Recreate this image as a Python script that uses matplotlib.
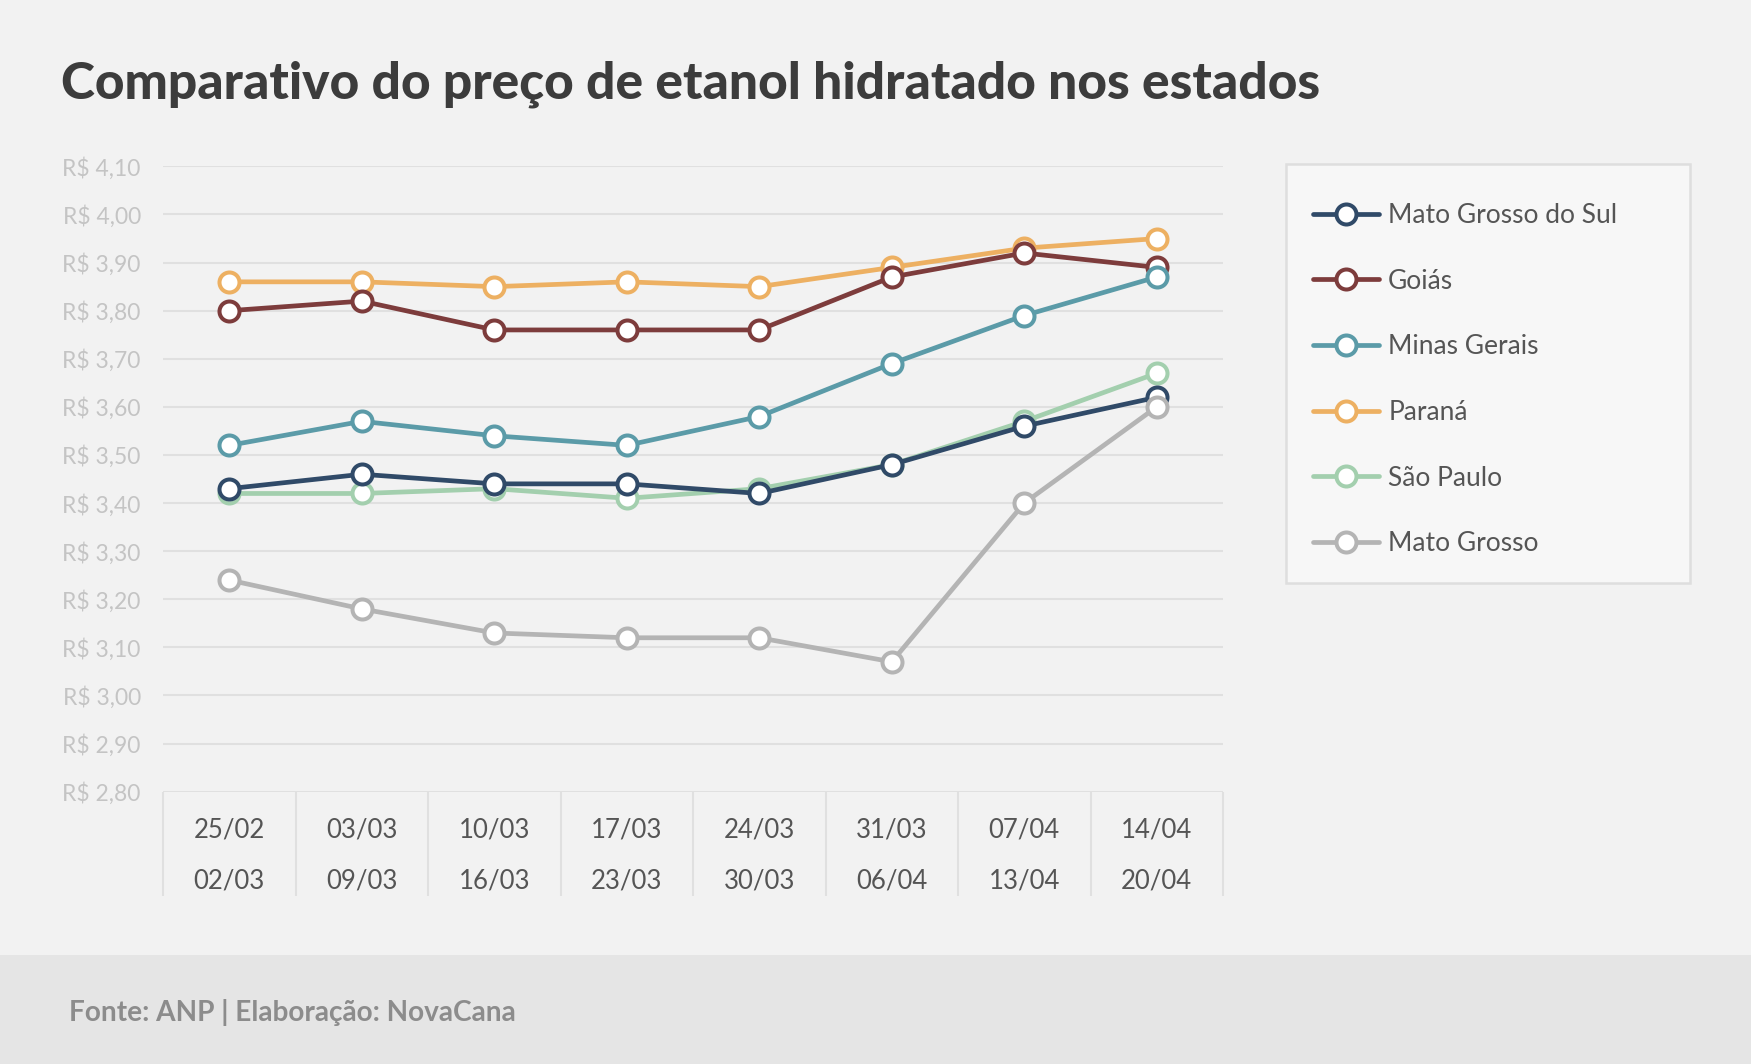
import matplotlib
matplotlib.use("Agg")
import matplotlib.pyplot as plt
from matplotlib.patches import Rectangle
import numpy as np

plt.rcParams['font.family'] = ['Lato', 'DejaVu Sans']

# ---- data ----
week_start = ["25/02", "03/03", "10/03", "17/03", "24/03", "31/03", "07/04", "14/04"]
week_end = ["02/03", "09/03", "16/03", "23/03", "30/03", "06/04", "13/04", "20/04"]

mato_grosso_do_sul = [3.43, 3.46, 3.44, 3.44, 3.42, 3.48, 3.56, 3.62]
goias = [3.80, 3.82, 3.76, 3.76, 3.76, 3.87, 3.92, 3.89]
minas_gerais = [3.52, 3.57, 3.54, 3.52, 3.58, 3.69, 3.79, 3.87]
parana = [3.86, 3.86, 3.85, 3.86, 3.85, 3.89, 3.93, 3.95]
sao_paulo = [3.42, 3.42, 3.43, 3.41, 3.43, 3.48, 3.57, 3.67]
mato_grosso = [3.24, 3.18, 3.13, 3.12, 3.12, 3.07, 3.40, 3.60]

series_names = ["Mato Grosso do Sul", "Goiás", "Minas Gerais", "Paraná", "São Paulo", "Mato Grosso"]
series_values = [mato_grosso_do_sul, goias, minas_gerais, parana, sao_paulo, mato_grosso]
series_colors = ["#304a68", "#7d3c3c", "#5b9ba8", "#edb062", "#a3cfae", "#b4b4b4"]
series_z = [4, 5, 6, 3, 2, 7]

y_ticks = [2.80, 2.90, 3.00, 3.10, 3.20, 3.30, 3.40, 3.50, 3.60, 3.70, 3.80, 3.90, 4.00, 4.10]

W, H = 1751, 1064
fig = plt.figure(figsize=(W / 100, H / 100), dpi=100)
fig.patch.set_facecolor('#f2f2f2')

# footer band
fig.patches.append(Rectangle((0, 0), 1, (H - 955) / H, transform=fig.transFigure,
                             facecolor='#e5e5e5', edgecolor='none', zorder=-2))
# legend frame
fig.patches.append(Rectangle((1286 / W, 1 - 583 / H), 404 / W, 419 / H, transform=fig.transFigure,
                             facecolor='#f7f7f7', edgecolor='#dedede', linewidth=1.8, zorder=-1))

ax_l, ax_r, ax_t, ax_b = 163, 1223, 166.4, 791.7
ax = fig.add_axes([ax_l / W, 1 - ax_b / H, (ax_r - ax_l) / W, (ax_b - ax_t) / H])
ax.set_facecolor('none')

x = np.arange(len(week_start))
handles = []
for name, vals, col, z in zip(series_names, series_values, series_colors, series_z):
    h, = ax.plot(x, vals, color=col, lw=3.4, marker='o', ms=14.4, mfc='white', mec=col,
                 mew=2.9, zorder=z, label=name, solid_capstyle='round')
    handles.append(h)

ax.set_xlim(-0.5, len(week_start) - 0.5)
ax.set_ylim(2.80, 4.10)
ax.set_yticks(y_ticks)
ax.set_yticklabels([("R\\$ %.2f" % v).replace('.', ',') for v in y_ticks])
ax.yaxis.grid(True, color='#e0e0e0', lw=1.5, zorder=0)
ax.set_axisbelow(True)
for s in ax.spines.values():
    s.set_visible(False)
ax.tick_params(axis='y', length=0, pad=16, labelsize=16.5, labelcolor='#c4c4c4')

ax.xaxis.remove_overlapping_locs = False
ax.set_xticks(x)
ax.set_xticklabels(week_start)
ax.set_xticks(x, minor=True)
ax.set_xticklabels(week_end, minor=True)
ax.tick_params(axis='x', which='major', length=0, pad=18.5, labelsize=18.5, labelcolor='#555555')
ax.tick_params(axis='x', which='minor', length=0, pad=55.5, labelsize=18.5, labelcolor='#555555')

# category separators below the axis
ax.vlines(np.arange(-0.5, len(week_start)), 0, -104 / (ax_b - ax_t),
          transform=ax.get_xaxis_transform(), clip_on=False, color='#e0e0e0', lw=1.5)

leg = ax.legend(handles, series_names, loc='upper left', bbox_to_anchor=(1313 / W, 1 - 203 / H),
                bbox_transform=fig.transFigure, frameon=False, fontsize=19,
                handlelength=2.5, handletextpad=0.35, labelspacing=1.54,
                borderpad=0, borderaxespad=0)
for t in leg.get_texts():
    t.set_color('#555555')

fig.text(61 / W, 1 - 98 / H, "Comparativo do preço de etanol hidratado nos estados",
         fontsize=37.1, fontweight='black', color='#3c3c3c', va='baseline', ha='left')
fig.text(69 / W, 1 - 1012 / H, "Fonte: ANP | Elaboração: NovaCana",
         fontsize=20.2, fontweight='bold', color='#8c8c8c', va='center', ha='left')

fig.savefig('out.png', dpi=100, facecolor=fig.get_facecolor())
